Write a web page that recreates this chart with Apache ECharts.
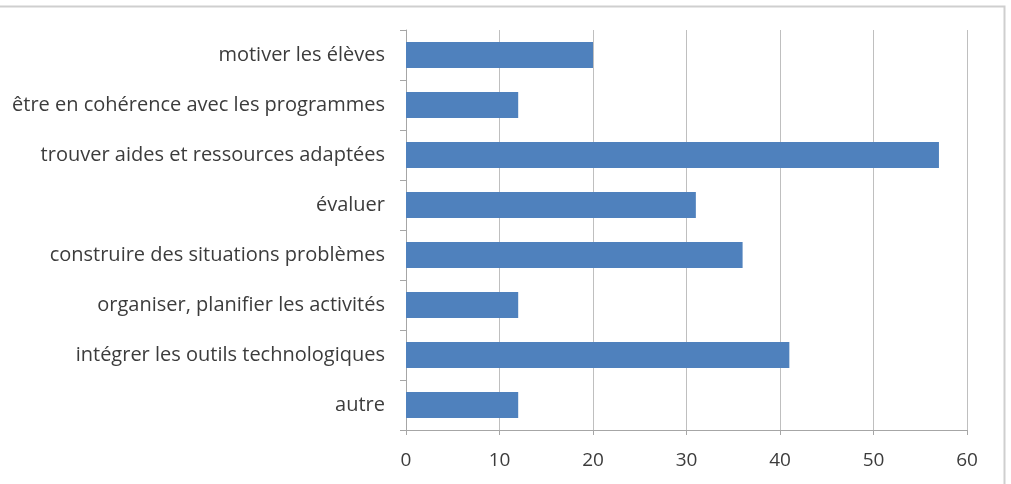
<!DOCTYPE html>
<html>
<head>
<meta charset="utf-8">
<script src="https://cdn.jsdelivr.net/npm/echarts@6/dist/echarts.min.js"></script>
<style>
  html, body { margin: 0; padding: 0; background: #fff; }
  #chart { width: 1011px; height: 484px; }
</style>
</head>
<body>
<div id="chart"></div>
<script>
    // categories listed from bottom to top (category axis on y starts at the bottom)
    var categories = [
        'autre',
        'intégrer les outils technologiques',
        'organiser, planifier les activités',
        'construire des situations problèmes',
        'évaluer',
        'trouver aides et ressources adaptées',
        'être en cohérence avec les programmes',
        'motiver les élèves'
    ];
    var values = [12, 41, 12, 36, 31, 57, 12, 20];
    var xTicks = [0, 10, 20, 30, 40, 50, 60];

    var font = '"Open Sans", "Noto Sans", sans-serif';
    var myChart = echarts.init(document.getElementById('chart'));
    myChart.setOption({
        animation: false,
        graphic: [{
            type: 'rect',
            shape: { x: -2, y: 6.5, width: 1006.5, height: 490 },
            style: { fill: 'none', stroke: '#cfcfcf', lineWidth: 2 },
            silent: true
        }],
        grid: {
            left: 406,
            right: 44,
            top: 30,
            bottom: 54,
            containLabel: false
        },
        xAxis: {
            type: 'value',
            min: xTicks[0],
            max: xTicks[xTicks.length - 1],
            interval: 10,
            axisLine: { show: true, lineStyle: { color: '#a6a6a6', width: 1 } },
            axisTick: { show: true, length: 5, lineStyle: { color: '#a6a6a6' } },
            axisLabel: {
                color: '#3c3c3c',
                fontSize: 19,
                fontFamily: font,
                margin: 21
            },
            splitLine: { show: true, lineStyle: { color: '#bfbfbf', width: 1 } }
        },
        yAxis: {
            type: 'category',
            data: categories,
            axisLine: { show: true, lineStyle: { color: '#a6a6a6', width: 1 } },
            axisTick: { show: true, length: 6, alignWithLabel: false, lineStyle: { color: '#a6a6a6' } },
            axisLabel: {
                color: '#3c3c3c',
                fontSize: 20,
                fontFamily: font,
                margin: 21
            },
            splitLine: { show: false }
        },
        series: [{
            type: 'bar',
            data: values,
            barCategoryGap: '48%',
            itemStyle: { color: '#4f81bd' }
        }]
    });
</script>
</body>
</html>
